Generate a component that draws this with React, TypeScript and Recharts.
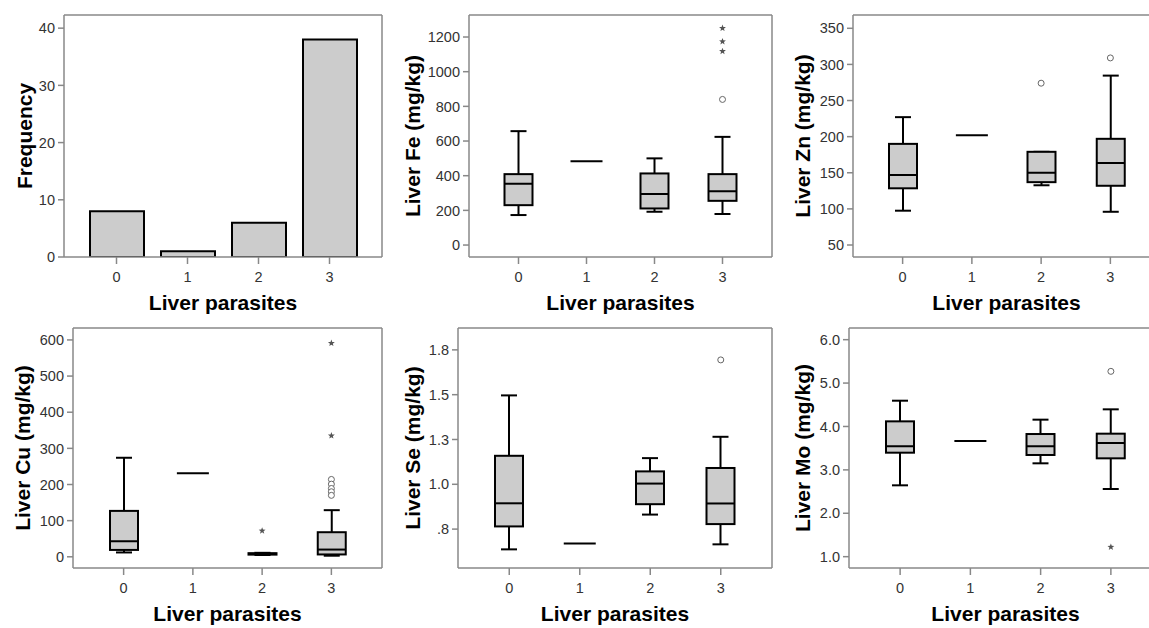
import React from "react";
import { ComposedChart, Bar, Scatter, XAxis, YAxis } from "recharts";

const parasiteLevels = ["0", "1", "2", "3"];
const frequencyCounts = [8, 1, 6, 38];

// five-number summaries per parasite level: [min, q1, median, q3, max]
const feStats = [
  [173, 230, 353, 409, 657],
  [484, 484, 484, 484, 484],
  [192, 211, 294, 413, 500],
  [179, 255, 310, 409, 624],
];
const feCircles = [[], [], [], [840]];
const feStars = [[], [], [], [1251, 1174, 1118]];

const znStats = [
  [97.5, 128.5, 147, 190, 227],
  [202, 202, 202, 202, 202],
  [132.7, 137, 150, 179, 179],
  [96, 132, 163.6, 197, 284.5],
];
const znCircles = [[], [], [274], [309]];
const znStars = [[], [], [], []];

const cuStats = [
  [12, 19, 43, 127, 274],
  [231, 231, 231, 231, 231],
  [5, 6, 8, 10, 11],
  [3, 6.5, 20, 68, 129],
];
const cuCircles = [[], [], [], [214, 201, 189, 180, 170]];
const cuStars = [[], [], [72], [591, 335]];

const seStats = [
  [0.637, 0.765, 0.894, 1.159, 1.496],
  [0.669, 0.669, 0.669, 0.669, 0.669],
  [0.831, 0.889, 1.004, 1.072, 1.146],
  [0.665, 0.778, 0.893, 1.091, 1.265],
];
const seCircles = [[], [], [], [1.694]];
const seStars = [[], [], [], []];

const moStats = [
  [2.644, 3.396, 3.542, 4.118, 4.594],
  [3.665, 3.665, 3.665, 3.665, 3.665],
  [3.151, 3.343, 3.542, 3.826, 4.157],
  [2.559, 3.266, 3.619, 3.834, 4.395],
];
const moCircles = [[], [], [], [5.27]];
const moStars = [[], [], [], [1.223]];

const freqTicks = [0, 10, 20, 30, 40];
const feTicks = [0, 200, 400, 600, 800, 1000, 1200];
const znTicks = [50, 100, 150, 200, 250, 300, 350];
const cuTicks = [0, 100, 200, 300, 400, 500, 600];
const seTicks = [0.75, 1.0, 1.25, 1.5, 1.75];
const moTicks = [1, 2, 3, 4, 5, 6];

const FONT = "'Liberation Sans', Arial, sans-serif";
const FRAME = "#888888";
const YW = 80;
const TOP = 10;
const XH = 62;
const RIGHT = 12;
const BOX_W = 28;
const CIRCLE_KEYS = ["c0", "c1", "c2", "c3", "c4"];
const STAR_KEYS = ["s0", "s1", "s2"];

function buildRows(stats: number[][], circles: number[][], stars: number[][]) {
  return parasiteLevels.map((cat, i) => {
    const [lo, q1, med, q3, hi] = stats[i];
    const row: any = { cat, whisker: [lo, hi], box: [q1, q3], median: med, single: lo === hi };
    CIRCLE_KEYS.forEach((k, j) => (row[k] = circles[i][j] ?? null));
    STAR_KEYS.forEach((k, j) => (row[k] = stars[i][j] ?? null));
    return row;
  });
}

const WhiskerShape = (p: any) => {
  if (p.payload?.single) return <g />;
  const cx = p.x + p.width / 2;
  const top = Math.min(p.y, p.y + p.height);
  const bottom = Math.max(p.y, p.y + p.height);
  return (
    <g stroke="#000" strokeWidth={2}>
      <line x1={cx} x2={cx} y1={top} y2={bottom} />
      <line x1={cx - 8} x2={cx + 8} y1={top} y2={top} />
      <line x1={cx - 8} x2={cx + 8} y1={bottom} y2={bottom} />
    </g>
  );
};

const BoxShape = (p: any) => {
  if (p.payload?.single) return <g />;
  const top = Math.min(p.y, p.y + p.height);
  const h = Math.abs(p.height);
  return <rect x={p.x} y={top} width={p.width} height={h} fill="#cccccc" stroke="#000" strokeWidth={2} />;
};

const MedianShape = (p: any) => {
  const half = p.payload?.single ? 16 : BOX_W / 2;
  return <line x1={p.cx - half} x2={p.cx + half} y1={p.cy} y2={p.cy} stroke="#000" strokeWidth={2} />;
};

const circleShape = (key: string) => (p: any) => {
  if (p.payload?.[key] == null || !Number.isFinite(p.cy)) return <g />;
  return <circle cx={p.cx} cy={p.cy} r={3} fill="#fff" stroke="#666" strokeWidth={1} />;
};

const starShape = (key: string) => (p: any) => {
  if (p.payload?.[key] == null || !Number.isFinite(p.cy)) return <g />;
  const pts: string[] = [];
  for (let i = 0; i < 10; i++) {
    const r = i % 2 === 0 ? 3.6 : 1.5;
    const a = -Math.PI / 2 + (i * Math.PI) / 5;
    pts.push(`${p.cx + r * Math.cos(a)},${p.cy + r * Math.sin(a)}`);
  }
  return <polygon points={pts.join(" ")} fill="#555" stroke="none" />;
};

type Frame = { x: number; y: number; w: number; h: number };

function axesFor(pad: number, domain: number[], ticks: number[], fmt: (v: number) => string, yTitle: string, titleGap: number) {
  return [
    <XAxis
      key="xb"
      dataKey="cat"
      height={XH}
      padding={{ left: pad, right: pad }}
      axisLine={{ stroke: FRAME, strokeWidth: 1.5 }}
      tickLine={{ stroke: FRAME, strokeWidth: 1.5 }}
      tickSize={7}
      tickMargin={8}
      tick={{ fill: "#333", fontSize: 14.5, fontFamily: FONT }}
      label={{ value: "Liver parasites", position: "insideTop", offset: 38, fill: "#000", fontSize: 21, fontWeight: 700, fontFamily: FONT }}
    />,
    // top and right edges of the plot frame
    <XAxis key="xt" xAxisId="top" dataKey="cat" orientation="top" height={1} tick={false} tickLine={false} axisLine={{ stroke: FRAME, strokeWidth: 1.5 }} />,
    <YAxis
      key="yl"
      type="number"
      width={YW}
      domain={domain}
      allowDataOverflow
      ticks={ticks}
      interval={0}
      tickFormatter={fmt}
      axisLine={{ stroke: FRAME, strokeWidth: 1.5 }}
      tickLine={{ stroke: FRAME, strokeWidth: 1.5 }}
      tickSize={6}
      tickMargin={3}
      tick={{ fill: "#333", fontSize: 14.5, fontFamily: FONT }}
      label={{ value: yTitle, angle: -90, position: "insideLeft", offset: YW - titleGap, fill: "#000", fontSize: 21, fontWeight: 700, fontFamily: FONT, style: { textAnchor: "middle" } }}
    />,
    <YAxis key="yr" yAxisId="right" type="number" domain={[0, 1]} orientation="right" width={1} tick={false} tickLine={false} axisLine={{ stroke: FRAME, strokeWidth: 1.5 }} />,
  ];
}

const chartMargin = { top: TOP - 1, right: RIGHT - 1, left: 0, bottom: 0 };

function FrequencyPanel({ frame, pad }: { frame: Frame; pad: number }) {
  const rows = parasiteLevels.map((cat, i) => ({ cat, count: frequencyCounts[i] }));
  return (
    <div style={{ position: "absolute", left: frame.x - YW, top: frame.y - TOP }}>
      <ComposedChart width={YW + frame.w + RIGHT} height={TOP + frame.h + XH} data={rows} margin={chartMargin}>
        {axesFor(pad, [0, 42.3], freqTicks, (v) => String(v), "Frequency", 39)}
        <Bar dataKey="count" barSize={54} fill="#cccccc" stroke="#000" strokeWidth={2} isAnimationActive={false} />
      </ComposedChart>
    </div>
  );
}

function BoxPanel(props: {
  frame: Frame; pad: number; stats: number[][]; circles: number[][]; stars: number[][];
  domain: number[]; ticks: number[]; fmt: (v: number) => string; title: string; titleGap: number;
}) {
  const { frame, pad } = props;
  const rows = buildRows(props.stats, props.circles, props.stars);
  return (
    <div style={{ position: "absolute", left: frame.x - YW, top: frame.y - TOP }}>
      <ComposedChart width={YW + frame.w + RIGHT} height={TOP + frame.h + XH} data={rows} margin={chartMargin} barGap={-BOX_W}>
        {axesFor(pad, props.domain, props.ticks, props.fmt, props.title, props.titleGap)}
        <Bar dataKey="whisker" barSize={BOX_W} shape={WhiskerShape} isAnimationActive={false} />
        <Bar dataKey="box" barSize={BOX_W} shape={BoxShape} isAnimationActive={false} />
        <Scatter dataKey="median" shape={MedianShape} isAnimationActive={false} />
        {CIRCLE_KEYS.map((k) => (
          <Scatter key={k} dataKey={k} shape={circleShape(k)} isAnimationActive={false} />
        ))}
        {STAR_KEYS.map((k) => (
          <Scatter key={k} dataKey={k} shape={starShape(k)} isAnimationActive={false} />
        ))}
      </ComposedChart>
    </div>
  );
}

const intFmt = (v: number) => String(v);
const oneDec = (v: number) => v.toFixed(1);
const seFmt = (v: number) => v.toFixed(1).replace(/^0/, "");

export default function App() {
  return (
    <div style={{ position: "absolute", left: 0, top: 0, width: 1149, height: 628, overflow: "hidden", background: "#fff", fontFamily: FONT }}>
      <FrequencyPanel frame={{ x: 64, y: 15, w: 318, h: 242 }} pad={17} />
      <BoxPanel frame={{ x: 469, y: 15, w: 303, h: 242 }} pad={15.5} stats={feStats} circles={feCircles} stars={feStars}
        domain={[-69, 1327]} ticks={feTicks} fmt={intFmt} title="Liver Fe (mg/kg)" titleGap={56} />
      <BoxPanel frame={{ x: 853, y: 15, w: 307, h: 242 }} pad={15} stats={znStats} circles={znCircles} stars={znStars}
        domain={[33.4, 368.4]} ticks={znTicks} fmt={intFmt} title="Liver Zn (mg/kg)" titleGap={50} />
      <BoxPanel frame={{ x: 73, y: 328, w: 309, h: 240 }} pad={16} stats={cuStats} circles={cuCircles} stars={cuStars}
        domain={[-31, 633]} ticks={cuTicks} fmt={intFmt} title="Liver Cu (mg/kg)" titleGap={50} />
      <BoxPanel frame={{ x: 458, y: 328, w: 314, h: 240 }} pad={16} stats={seStats} circles={seCircles} stars={seStars}
        domain={[0.533, 1.872]} ticks={seTicks} fmt={seFmt} title="Liver Se (mg/kg)" titleGap={45} />
      <BoxPanel frame={{ x: 849, y: 328, w: 313, h: 240 }} pad={16} stats={moStats} circles={moCircles} stars={moStars}
        domain={[0.739, 6.269]} ticks={moTicks} fmt={oneDec} title="Liver Mo (mg/kg)" titleGap={46} />
    </div>
  );
}
